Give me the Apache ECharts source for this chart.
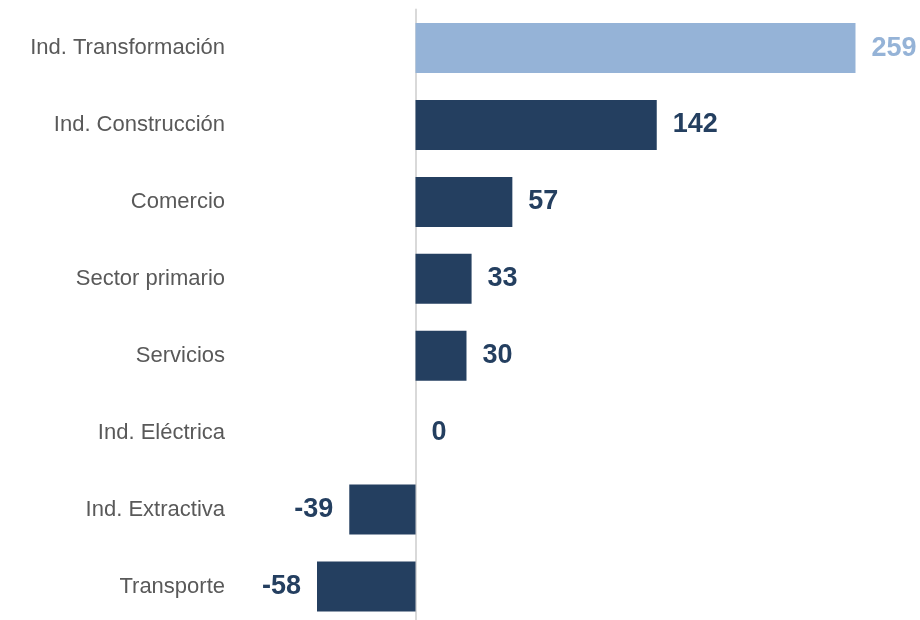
<!DOCTYPE html>
<html>
<head>
<meta charset="utf-8">
<script src="https://cdn.jsdelivr.net/npm/echarts@6/dist/echarts.min.js"></script>
<style>
  html, body { margin: 0; padding: 0; background: #fff; }
  #chart { width: 920px; height: 620px; }
</style>
</head>
<body>
<div id="chart"></div>
<script>
// sectores y valores
var categories = ["Ind. Transformación", "Ind. Construcción", "Comercio", "Sector primario",
  "Servicios", "Ind. Eléctrica", "Ind. Extractiva", "Transporte"];
var values = [259, 142, 57, 33, 30, 0, -39, -58];
var highlight = "Ind. Transformación";

var lightBlue = "#95b3d7";
var navy = "#243f60";

var chart = echarts.init(document.getElementById("chart"));

var seriesData = values.map(function (v, i) {
  var color = categories[i] === highlight ? lightBlue : navy;
  return {
    value: v,
    itemStyle: { color: color },
    label: {
      position: v < 0 ? "left" : "right",
      color: color
    }
  };
});

chart.setOption({
  animation: false,
  grid: { left: 317, right: 64.5, top: 9.6, bottom: -5, containLabel: false, outerBoundsMode: "none" },
  xAxis: {
    type: "value",
    min: -58,
    max: 259,
    show: false,
    splitLine: { show: false }
  },
  yAxis: {
    type: "category",
    inverse: true,
    data: categories,
    axisLine: { show: true, onZero: true, lineStyle: { color: "#d9d9d9", width: 2 } },
    axisTick: { show: false },
    axisLabel: {
      margin: 92,
      fontFamily: "Liberation Sans, Arial",
      fontSize: 22,
      color: "#595959"
    }
  },
  series: [{
    type: "bar",
    barWidth: 50,
    data: seriesData,
    label: {
      show: true,
      distance: 16,
      fontFamily: "Liberation Sans, Arial",
      fontWeight: "bold",
      fontSize: 27
    }
  }]
});
</script>
</body>
</html>
